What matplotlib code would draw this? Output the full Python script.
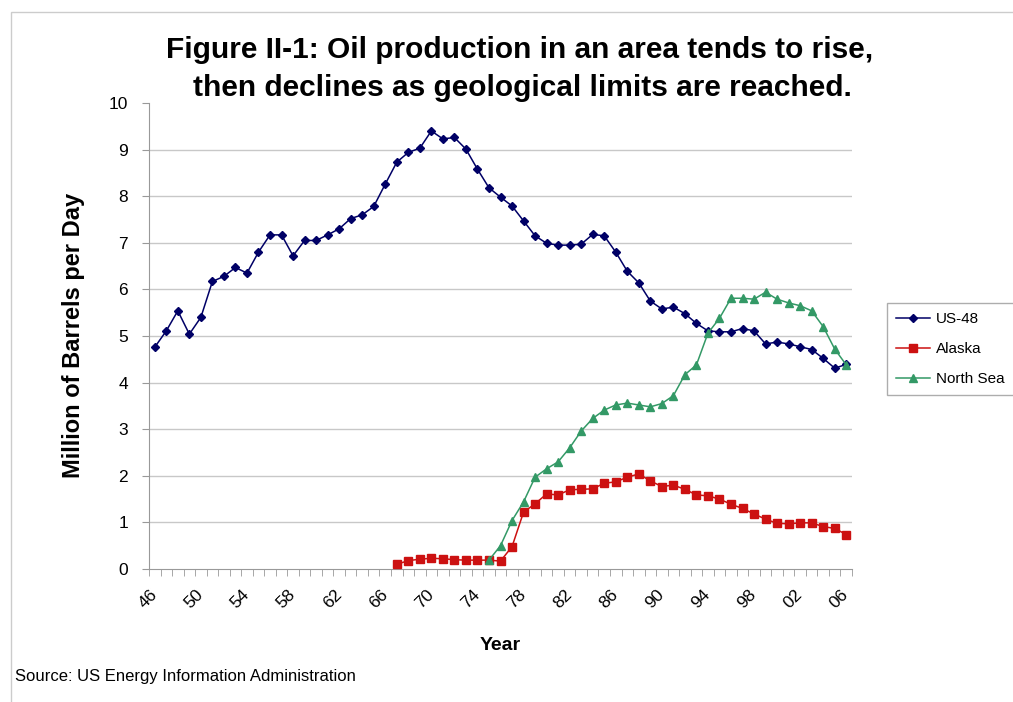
import matplotlib
matplotlib.use("Agg")
import matplotlib.pyplot as plt
import matplotlib.patches as mpatches

plt.rcParams["font.family"] = ["Liberation Sans", "DejaVu Sans"]

# million barrels per day
us48_start = 1946
us48 = [4.76, 5.11, 5.54, 5.04, 5.40, 6.17, 6.28, 6.47, 6.35, 6.80,
        7.17, 7.17, 6.72, 7.05, 7.05, 7.17, 7.30, 7.52, 7.60, 7.78,
        8.26, 8.73, 8.94, 9.03, 9.40, 9.23, 9.26, 9.01, 8.58, 8.18,
        7.98, 7.79, 7.47, 7.15, 6.99, 6.95, 6.95, 6.97, 7.18, 7.15,
        6.80, 6.39, 6.14, 5.75, 5.58, 5.62, 5.48, 5.27, 5.11, 5.09,
        5.09, 5.16, 5.11, 4.83, 4.87, 4.83, 4.77, 4.71, 4.52, 4.31,
        4.39]

alaska_start = 1967
alaska = [0.10, 0.18, 0.21, 0.23, 0.22, 0.20, 0.19, 0.19, 0.19, 0.17,
          0.48, 1.22, 1.40, 1.61, 1.59, 1.70, 1.71, 1.72, 1.84, 1.87,
          1.97, 2.04, 1.89, 1.77, 1.80, 1.71, 1.59, 1.57, 1.50, 1.39,
          1.30, 1.18, 1.07, 0.98, 0.97, 0.99, 0.99, 0.91, 0.87, 0.74]

north_sea_start = 1975
north_sea = [0.19, 0.50, 1.04, 1.44, 1.97, 2.15, 2.30, 2.60, 2.96, 3.23,
             3.41, 3.52, 3.56, 3.52, 3.48, 3.55, 3.72, 4.17, 4.38, 5.06,
             5.38, 5.81, 5.81, 5.79, 5.94, 5.79, 5.71, 5.65, 5.54, 5.20,
             4.72, 4.38]

first_year, last_year = 1946, 2006
tick_years = list(range(1946, 2007, 4))

W, H = 1013, 702


def years_for(start, values):
    return list(range(start, start + len(values)))


fig = plt.figure(figsize=(W / 100, H / 100), dpi=100)
ax = fig.add_axes([149 / W, 1 - 569 / H, (852 - 149) / W, (569 - 103) / H])

ax.plot(years_for(us48_start, us48), us48, color="#000066", lw=1.1,
        marker="D", markersize=4.5, label="US-48", zorder=3)
ax.plot(years_for(alaska_start, alaska), alaska, color="#cc1111", lw=1.1,
        marker="s", markersize=6, label="Alaska", zorder=4)
ax.plot(years_for(north_sea_start, north_sea), north_sea, color="#339966", lw=1.1,
        marker="^", markersize=6, label="North Sea", zorder=5)

ax.set_xlim(first_year - 0.5, last_year + 0.5)
ax.set_ylim(0, 10)
ax.set_yticks(range(11))
for y in range(1, 10):
    ax.axhline(y, color="#c8c8c8", lw=1, zorder=0)

ax.set_xticks(tick_years)
ax.set_xticklabels([f"{y % 100:02d}" for y in tick_years], rotation=45,
                   ha="right", va="center", rotation_mode="anchor")
ax.set_xticks([first_year - 0.5 + k for k in range(last_year - first_year + 2)], minor=True)
ax.tick_params(axis="x", which="major", length=0, pad=17, labelsize=12.5)
ax.tick_params(axis="x", which="minor", length=5, color="#999999")
ax.tick_params(axis="y", direction="out", length=5, color="#999999", pad=10, labelsize=12.5)

for s in ["top", "right"]:
    ax.spines[s].set_visible(False)
for s in ["left", "bottom"]:
    ax.spines[s].set_color("#999999")

fig.text(520 / W, 1 - 50 / H, "Figure II-1: Oil production in an area tends to rise,",
         ha="center", va="center", fontsize=21.5, fontweight="bold")
fig.text(522 / W, 1 - 88 / H, "then declines as geological limits are reached.",
         ha="center", va="center", fontsize=21.5, fontweight="bold")
fig.text(74 / W, 1 - 335 / H, "Million of Barrels per Day", rotation=90,
         ha="center", va="center", fontsize=17, fontweight="bold")
fig.text(500 / W, 1 - 646 / H, "Year", ha="center", va="center",
         fontsize=14, fontweight="bold")
fig.text(15 / W, 1 - 677 / H, "Source: US Energy Information Administration",
         ha="left", va="center", fontsize=12)

leg = fig.legend(loc="upper left", bbox_to_anchor=(887 / W, 1 - 303 / H),
                 fontsize=11, handlelength=2.2, handletextpad=0.4,
                 labelspacing=1.05, fancybox=False, edgecolor="#999999",
                 borderpad=0.6, borderaxespad=0)
leg.get_frame().set_linewidth(1)

# thin frame round the chart
fig.patches.append(mpatches.Rectangle((11 / W, -0.1), 1.2, 1 - 12 / H + 0.1,
                                      transform=fig.transFigure, fill=False,
                                      edgecolor="#cccccc", lw=1))

fig.savefig("out.png", dpi=100)
